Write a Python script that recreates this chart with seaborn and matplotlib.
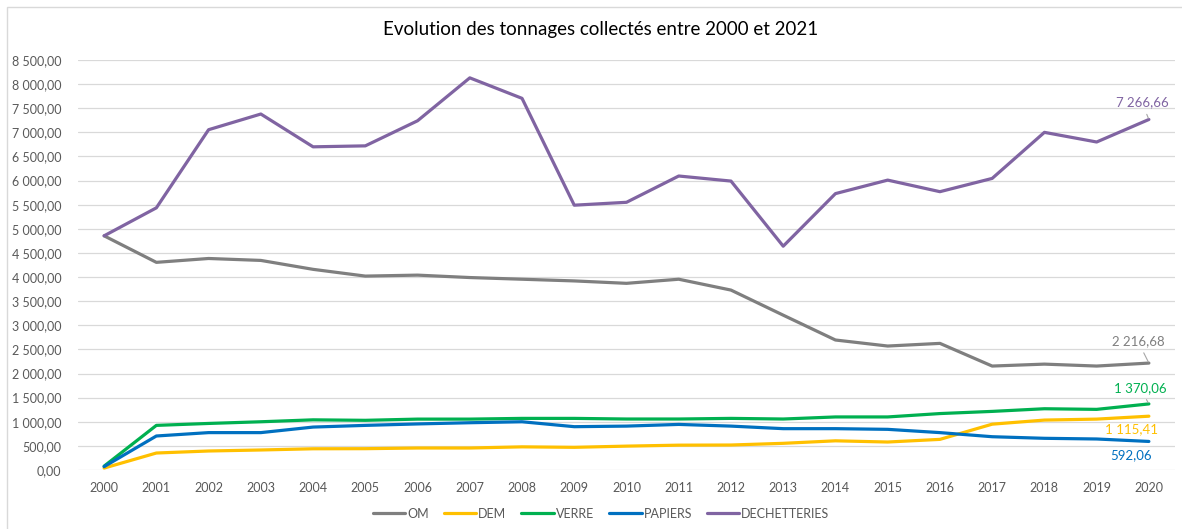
import matplotlib
matplotlib.use("Agg")
import matplotlib.pyplot as plt
import matplotlib.ticker as mticker
from matplotlib.patches import Rectangle
import seaborn as sns
import pandas as pd

# --- data ---
annees = [str(a) for a in range(2000, 2021)]

om = [4855, 4305, 4385, 4345, 4160, 4020, 4040, 3990, 3955, 3920,
      3870, 3955, 3730, 3210, 2695, 2570, 2625, 2155, 2195, 2155, 2216.68]
dem = [40, 352, 394, 415, 440, 442, 456, 456, 480, 470,
       495, 515, 518, 553, 605, 580, 635, 950, 1035, 1055, 1115.41]
verre = [80, 925, 965, 1000, 1040, 1030, 1055, 1055, 1070, 1070,
         1057, 1057, 1070, 1057, 1100, 1100, 1170, 1215, 1270, 1257, 1370.06]
papiers = [70, 705, 775, 775, 890, 925, 955, 980, 1000, 898,
           910, 945, 910, 857, 857, 843, 775, 690, 657, 643, 592.06]
dechetteries = [4855, 5435, 7055, 7380, 6700, 6720, 7240, 8130, 7705, 5490,
                5550, 6095, 5990, 4640, 5730, 6010, 5770, 6045, 7000, 6800, 7266.66]

flux = ["OM", "DEM", "VERRE", "PAPIERS", "DECHETTERIES"]
couleurs = {"OM": "#7f7f7f", "DEM": "#ffc000", "VERRE": "#00b050",
            "PAPIERS": "#0070c0", "DECHETTERIES": "#8064a2"}

df = pd.DataFrame({"annee": annees * 5,
                   "flux": sum([[f] * len(annees) for f in flux], []),
                   "tonnage": om + dem + verre + papiers + dechetteries})


def fr_format(v, pos=None):
    return f"{v:,.2f}".replace(",", " ").replace(".", ",")


sns.set_style("white")
plt.rcParams["font.family"] = ["Lato", "DejaVu Sans"]

fig = plt.figure(figsize=(11.82, 5.29), dpi=100)
ax = fig.add_axes([78 / 1182, 1 - 470 / 529, 1097 / 1182, 410 / 529])

sns.lineplot(data=df, x="annee", y="tonnage", hue="flux", hue_order=flux,
             palette=couleurs, linewidth=2.3, sort=False, ax=ax,
             solid_capstyle="round", solid_joinstyle="round")

ax.set_xlim(-0.5, len(annees) - 0.5)
ax.set_ylim(0, 8500)
ax.yaxis.set_major_locator(mticker.MultipleLocator(500))
ax.yaxis.set_major_formatter(mticker.FuncFormatter(fr_format))
ax.grid(axis="y", color="#d9d9d9", linewidth=0.9)
ax.grid(axis="x", visible=False)
ax.set_axisbelow(True)
for s in ax.spines.values():
    s.set_visible(False)
ax.tick_params(axis="both", length=0, colors="#595959", labelsize=9)
ax.tick_params(axis="y", pad=12)
ax.tick_params(axis="x", pad=9)
ax.set_xlabel("")
ax.set_ylabel("")

# labels of the last values
last = len(annees) - 1
etiquettes = [
    ("DECHETTERIES", dechetteries[last], (-7, 17), True),
    ("OM", om[last], (-11, 22), True),
    ("VERRE", verre[last], (-9, 16), True),
    ("DEM", dem[last], (-17, -13), False),
    ("PAPIERS", papiers[last], (-18, -14), False),
]
for nom, val, off, leader in etiquettes:
    props = None
    if leader:
        props = dict(arrowstyle="-", color="#a6a6a6", lw=0.8, shrinkA=2, shrinkB=1)
    ax.annotate(fr_format(val), xy=(last, val), xytext=off,
                textcoords="offset pixels", ha="center", va="center",
                fontsize=9.5, color=couleurs[nom], arrowprops=props)

sns.move_legend(ax, "center", bbox_to_anchor=(0.477, -0.107), ncol=5,
                frameon=False, title=None, fontsize=9, handlelength=2.6,
                handletextpad=0.15, columnspacing=1.2, labelcolor="#595959")

fig.text(0.508, 1 - 30 / 529, "Evolution des tonnages collectés entre 2000 et 2021",
         ha="center", va="center", fontsize=13.5, color="#000000")

fig.patches.append(Rectangle((7 / 1182, -0.05), 1.2, 1 - 7 / 529 + 0.05,
                             transform=fig.transFigure, fill=False,
                             edgecolor="#d9d9d9", linewidth=1))

fig.savefig("out.png", dpi=100)
